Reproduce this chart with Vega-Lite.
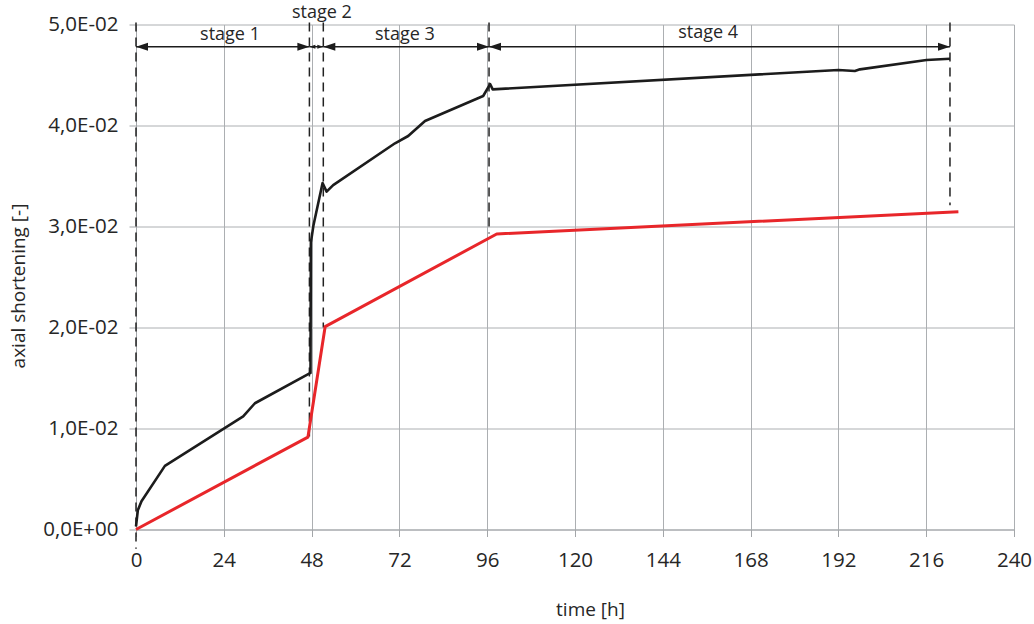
{
  "$schema": "https://vega.github.io/schema/vega-lite/v6.json",
  "width": 878,
  "height": 505,
  "autosize": "none",
  "padding": {"left": 136, "top": 24.5, "right": 20, "bottom": 94.5},
  "background": "white",
  "config": {
    "view": {"stroke": null},
    "font": "Open Sans",
    "axis": {
      "domainColor": "#a3a6a9",
      "gridColor": "#acafb2",
      "tickColor": "#a3a6a9",
      "labelFont": "Open Sans",
      "labelFontSize": 20.5,
      "labelColor": "#262626",
      "titleFont": "Open Sans",
      "titleFontSize": 19,
      "titleFontWeight": "normal",
      "titleColor": "#262626",
      "tickSize": 7,
      "labelOverlap": false,
      "labelFlush": false
    }
  },
  "datasets": {
    "curves": [
      {"series": "measured", "t": 0, "v": 0.0003},
      {"series": "measured", "t": 0.5, "v": 0.0019},
      {"series": "measured", "t": 1.5, "v": 0.0028},
      {"series": "measured", "t": 7.9, "v": 0.0063},
      {"series": "measured", "t": 29.3, "v": 0.0112},
      {"series": "measured", "t": 32.5, "v": 0.0125},
      {"series": "measured", "t": 47.7, "v": 0.0155},
      {"series": "measured", "t": 47.8, "v": 0.0284},
      {"series": "measured", "t": 48.5, "v": 0.0301},
      {"series": "measured", "t": 51.0, "v": 0.0343},
      {"series": "measured", "t": 52.1, "v": 0.03345},
      {"series": "measured", "t": 53.9, "v": 0.0341},
      {"series": "measured", "t": 70.8, "v": 0.03824},
      {"series": "measured", "t": 74.4, "v": 0.03896},
      {"series": "measured", "t": 79.0, "v": 0.04045},
      {"series": "measured", "t": 94.9, "v": 0.04292},
      {"series": "measured", "t": 96.8, "v": 0.0441},
      {"series": "measured", "t": 97.5, "v": 0.04358},
      {"series": "measured", "t": 192.0, "v": 0.0455},
      {"series": "measured", "t": 196.5, "v": 0.0454},
      {"series": "measured", "t": 197.9, "v": 0.04556},
      {"series": "measured", "t": 216.1, "v": 0.04649},
      {"series": "measured", "t": 222.5, "v": 0.04661},
      {"series": "model", "t": 0, "v": 0},
      {"series": "model", "t": 47.0, "v": 0.00915},
      {"series": "model", "t": 51.7, "v": 0.02008},
      {"series": "model", "t": 98.6, "v": 0.02926},
      {"series": "model", "t": 224.8, "v": 0.03147}
    ],
    "dashes": [
      {"t": 0, "v": 0.0502, "v2": -0.0019},
      {"t": 47.4, "v": 0.0502, "v2": 0.0092},
      {"t": 51.2, "v": 0.0502, "v2": 0.0200},
      {"t": 96.5, "v": 0.0502, "v2": 0.0293},
      {"t": 222.5, "v": 0.0502, "v2": 0.0321}
    ],
    "arrows": [
      {"stage": "stage 1", "t": 0, "t2": 47.4, "v": 0.0478},
      {"stage": "stage 2", "t": 47.4, "t2": 51.2, "v": 0.0478},
      {"stage": "stage 3", "t": 51.2, "t2": 96.5, "v": 0.0478},
      {"stage": "stage 4", "t": 96.5, "t2": 222.5, "v": 0.0478}
    ],
    "heads": [
      {"stage": "stage 1", "t": 0, "v": 0.0478, "dir": "left"},
      {"stage": "stage 1", "t": 47.4, "v": 0.0478, "dir": "right"},
      {"stage": "stage 2", "t": 47.4, "v": 0.0478, "dir": "left"},
      {"stage": "stage 2", "t": 51.2, "v": 0.0478, "dir": "right"},
      {"stage": "stage 3", "t": 51.2, "v": 0.0478, "dir": "left"},
      {"stage": "stage 3", "t": 96.5, "v": 0.0478, "dir": "right"},
      {"stage": "stage 4", "t": 96.5, "v": 0.0478, "dir": "left"},
      {"stage": "stage 4", "t": 222.5, "v": 0.0478, "dir": "right"}
    ],
    "labels": [
      {"label": "stage 1", "t": 25.7, "v": 0.04896},
      {"label": "stage 2", "t": 50.8, "v": 0.0511},
      {"label": "stage 3", "t": 73.5, "v": 0.04896},
      {"label": "stage 4", "t": 156.4, "v": 0.0492}
    ]
  },
  "encoding": {
    "x": {
      "field": "t",
      "type": "quantitative",
      "title": "time [h]",
      "scale": {"domain": [0, 240], "nice": false, "zero": false},
      "axis": {
        "values": [0, 24, 48, 72, 96, 120, 144, 168, 192, 216, 240],
        "labelPadding": 14,
        "titleX": 454,
        "titleY": 86,
        "titleBaseline": "alphabetic",
        "titleAlign": "center"
      }
    },
    "y": {
      "field": "v",
      "type": "quantitative",
      "title": "axial shortening [-]",
      "scale": {"domain": [0, 0.05], "nice": false, "zero": false},
      "axis": {
        "values": [0, 0.01, 0.02, 0.03, 0.04, 0.05],
        "labelExpr": "datum.value == 0 ? '0,0E+00' : replace(format(datum.value * 100, '.1f'), '.', ',') + 'E-02'",
        "labelPadding": 11,
        "titleX": -118,
        "titleY": 261,
        "titleAngle": -90,
        "titleAlign": "center",
        "titleBaseline": "middle"
      }
    }
  },
  "layer": [
    {
      "data": {"name": "dashes"},
      "mark": {"type": "rule", "color": "#222222", "strokeWidth": 1.5, "strokeDash": [9, 6]},
      "encoding": {"y2": {"field": "v2"}}
    },
    {
      "data": {"name": "curves"},
      "transform": [{"filter": "datum.series == 'model'"}],
      "mark": {"type": "line", "strokeWidth": 3, "strokeJoin": "round", "color": "#e8262a"},
      "encoding": {"order": {"field": "t", "type": "quantitative"}}
    },
    {
      "data": {"name": "curves"},
      "transform": [{"filter": "datum.series == 'measured'"}],
      "mark": {"type": "line", "strokeWidth": 2.6, "strokeJoin": "round", "color": "#1c1c1c"},
      "encoding": {"order": {"field": "t", "type": "quantitative"}}
    },
    {
      "data": {"name": "arrows"},
      "mark": {"type": "rule", "color": "#1c1c1c", "strokeWidth": 1.4},
      "encoding": {"x2": {"field": "t2"}}
    },
    {
      "data": {"name": "heads"},
      "transform": [{"filter": "datum.stage != 'stage 2'"}],
      "mark": {"type": "point", "filled": true, "color": "#1c1c1c", "opacity": 1, "size": 576, "strokeWidth": 0},
      "encoding": {
        "shape": {
          "field": "dir",
          "type": "nominal",
          "scale": {"domain": ["left", "right"], "range": ["M0,0L1,-0.33L1,0.33Z", "M0,0L-1,-0.33L-1,0.33Z"]},
          "legend": null
        }
      }
    },
    {
      "data": {"name": "heads"},
      "transform": [{"filter": "datum.stage == 'stage 2'"}],
      "mark": {"type": "point", "filled": true, "color": "#1c1c1c", "opacity": 1, "size": 144, "strokeWidth": 0},
      "encoding": {
        "shape": {
          "field": "dir",
          "type": "nominal",
          "scale": {"domain": ["left", "right"], "range": ["M0,0L1,-0.33L1,0.33Z", "M0,0L-1,-0.33L-1,0.33Z"]},
          "legend": null
        }
      }
    },
    {
      "data": {"name": "labels"},
      "mark": {"type": "text", "fontSize": 18, "color": "#262626", "align": "center", "baseline": "middle", "font": "Open Sans"},
      "encoding": {"text": {"field": "label", "type": "nominal"}}
    }
  ]
}
